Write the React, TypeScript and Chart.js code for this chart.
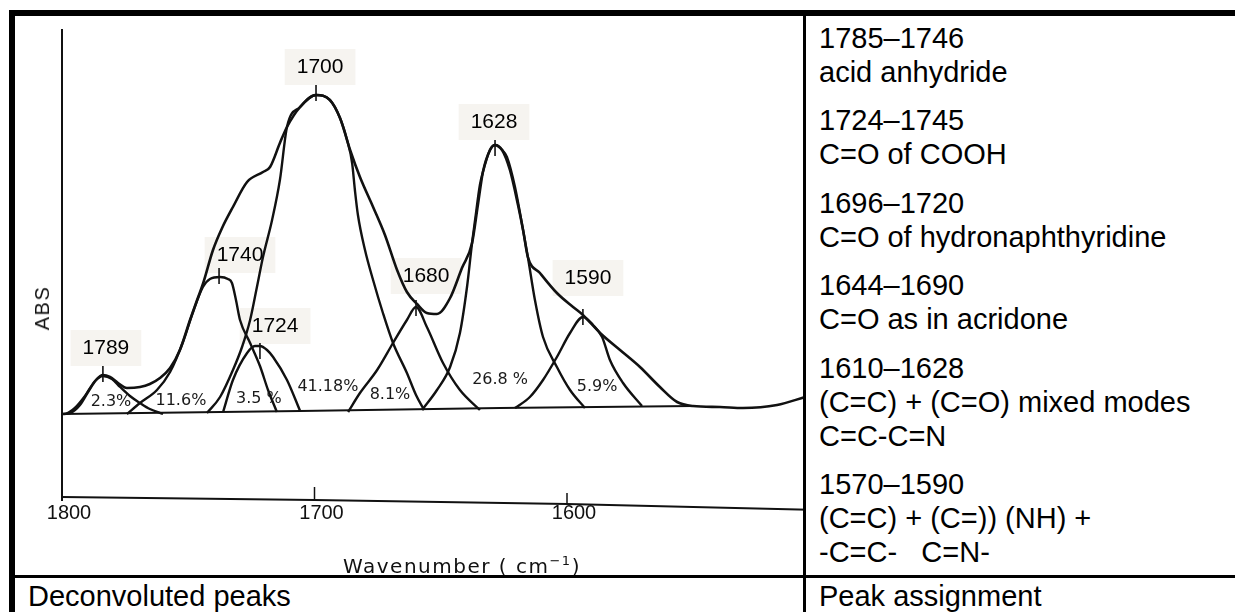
import React, { useEffect, useRef } from "react";
import { Chart, registerables } from "chart.js";

Chart.register(...registerables);

type P = { x: number; y: number };

// wavenumber (cm-1) vs absorbance (arbitrary units, baseline = 0)
const envelope: P[] = [
  { x: 1800, y: 0.0 }, { x: 1796.8, y: 0.01 }, { x: 1792.9, y: 0.09 }, { x: 1789.7, y: 0.22 },
  { x: 1786.5, y: 0.34 }, { x: 1783.8, y: 0.39 }, { x: 1781.0, y: 0.37 }, { x: 1777.8, y: 0.31 },
  { x: 1774.3, y: 0.26 }, { x: 1769.1, y: 0.27 }, { x: 1765.2, y: 0.3 }, { x: 1761.2, y: 0.36 },
  { x: 1757.2, y: 0.46 }, { x: 1753.3, y: 0.64 }, { x: 1749.3, y: 0.94 }, { x: 1746.5, y: 1.14 },
  { x: 1744.2, y: 1.3 }, { x: 1740.2, y: 1.64 }, { x: 1736.6, y: 1.86 }, { x: 1732.3, y: 2.07 },
  { x: 1726.7, y: 2.32 }, { x: 1720.4, y: 2.42 }, { x: 1717.6, y: 2.47 }, { x: 1713.7, y: 2.71 },
  { x: 1710.9, y: 2.87 }, { x: 1705.7, y: 3.07 }, { x: 1699.4, y: 3.19 }, { x: 1693.9, y: 3.14 },
  { x: 1689.9, y: 2.96 }, { x: 1685.9, y: 2.64 }, { x: 1682.0, y: 2.37 }, { x: 1676.8, y: 2.07 },
  { x: 1672.1, y: 1.79 }, { x: 1667.3, y: 1.44 }, { x: 1663.4, y: 1.22 }, { x: 1659.4, y: 1.1 },
  { x: 1655.5, y: 1.01 }, { x: 1651.5, y: 1.0 }, { x: 1646.3, y: 1.16 }, { x: 1641.6, y: 1.46 },
  { x: 1637.6, y: 1.71 }, { x: 1635.3, y: 2.09 }, { x: 1633.3, y: 2.42 }, { x: 1630.5, y: 2.64 },
  { x: 1628.5, y: 2.69 }, { x: 1625.7, y: 2.64 }, { x: 1622.6, y: 2.44 }, { x: 1619.4, y: 2.09 },
  { x: 1617.4, y: 1.84 }, { x: 1615.5, y: 1.57 }, { x: 1610.7, y: 1.41 }, { x: 1604.0, y: 1.21 },
  { x: 1597.6, y: 1.07 }, { x: 1593.7, y: 0.99 }, { x: 1586.9, y: 0.81 }, { x: 1579.0, y: 0.64 },
  { x: 1571.1, y: 0.47 }, { x: 1563.2, y: 0.27 }, { x: 1556.4, y: 0.12 }, { x: 1550.1, y: 0.08 },
  { x: 1539.4, y: 0.07 }, { x: 1530.3, y: 0.06 }, { x: 1516.8, y: 0.09 }, { x: 1505.7, y: 0.17 },
];

const peak1789: P[] = [
  { x: 1798.4, y: 0 }, { x: 1794.9, y: 0.06 }, { x: 1790.9, y: 0.18 }, { x: 1786.9, y: 0.33 },
  { x: 1783.8, y: 0.38 }, { x: 1780.2, y: 0.35 }, { x: 1777.0, y: 0.27 }, { x: 1773.1, y: 0.18 },
  { x: 1769.1, y: 0.11 }, { x: 1765.2, y: 0.05 }, { x: 1760.0, y: 0.0 },
];

const peak1740: P[] = [
  { x: 1774.3, y: 0 }, { x: 1769.1, y: 0.11 }, { x: 1762.4, y: 0.24 }, { x: 1757.2, y: 0.42 },
  { x: 1752.1, y: 0.72 }, { x: 1748.1, y: 1.02 }, { x: 1744.2, y: 1.27 }, { x: 1741.4, y: 1.35 },
  { x: 1737.4, y: 1.37 }, { x: 1734.3, y: 1.35 }, { x: 1732.7, y: 1.31 }, { x: 1731.1, y: 1.14 },
  { x: 1729.5, y: 0.94 }, { x: 1725.5, y: 0.71 }, { x: 1721.6, y: 0.48 }, { x: 1718.4, y: 0.24 },
  { x: 1714.9, y: 0.02 },
];

const peak1724: P[] = [
  { x: 1736.2, y: 0.02 }, { x: 1732.3, y: 0.34 }, { x: 1726.7, y: 0.61 }, { x: 1723.6, y: 0.68 },
  { x: 1721.6, y: 0.68 }, { x: 1718.8, y: 0.64 }, { x: 1716.4, y: 0.57 }, { x: 1710.9, y: 0.34 },
  { x: 1705.7, y: 0.03 },
];

const peak1700: P[] = [
  { x: 1742.6, y: 0.01 }, { x: 1737.4, y: 0.17 }, { x: 1732.3, y: 0.44 }, { x: 1728.7, y: 0.67 },
  { x: 1725.5, y: 0.94 }, { x: 1722.8, y: 1.27 }, { x: 1720.4, y: 1.57 }, { x: 1716.8, y: 1.94 },
  { x: 1713.7, y: 2.34 }, { x: 1710.9, y: 2.87 }, { x: 1705.7, y: 3.07 }, { x: 1699.4, y: 3.19 },
  { x: 1693.9, y: 3.14 }, { x: 1689.9, y: 2.96 }, { x: 1687.1, y: 2.74 }, { x: 1685.1, y: 2.51 },
  { x: 1684.0, y: 2.24 }, { x: 1682.8, y: 1.99 }, { x: 1680.0, y: 1.64 }, { x: 1676.8, y: 1.34 },
  { x: 1672.9, y: 1.01 }, { x: 1668.9, y: 0.71 }, { x: 1663.4, y: 0.41 }, { x: 1659.8, y: 0.19 },
  { x: 1656.6, y: 0.04 },
];

const peak1680: P[] = [
  { x: 1686.7, y: 0.02 }, { x: 1682.0, y: 0.21 }, { x: 1675.2, y: 0.44 }, { x: 1668.9, y: 0.71 },
  { x: 1663.4, y: 0.94 }, { x: 1659.8, y: 1.07 }, { x: 1655.5, y: 0.87 }, { x: 1649.1, y: 0.51 },
  { x: 1642.4, y: 0.24 }, { x: 1634.5, y: 0.04 },
];

const peak1628: P[] = [
  { x: 1657.4, y: 0.04 }, { x: 1651.5, y: 0.24 }, { x: 1646.3, y: 0.47 }, { x: 1642.4, y: 0.81 },
  { x: 1639.6, y: 1.27 }, { x: 1637.6, y: 1.71 }, { x: 1636.4, y: 1.94 }, { x: 1634.5, y: 2.29 },
  { x: 1633.3, y: 2.42 }, { x: 1630.5, y: 2.64 }, { x: 1628.5, y: 2.69 }, { x: 1625.7, y: 2.64 },
  { x: 1623.8, y: 2.57 }, { x: 1620.6, y: 2.27 }, { x: 1617.4, y: 1.84 }, { x: 1615.5, y: 1.57 },
  { x: 1612.7, y: 1.14 }, { x: 1609.5, y: 0.77 }, { x: 1604.0, y: 0.47 }, { x: 1598.8, y: 0.24 },
  { x: 1592.9, y: 0.06 },
];

const peak1590: P[] = [
  { x: 1620.6, y: 0.06 }, { x: 1614.7, y: 0.17 }, { x: 1609.5, y: 0.34 }, { x: 1604.0, y: 0.57 },
  { x: 1598.8, y: 0.81 }, { x: 1593.7, y: 0.97 }, { x: 1589.7, y: 0.89 }, { x: 1586.1, y: 0.77 },
  { x: 1583.0, y: 0.54 }, { x: 1577.8, y: 0.31 }, { x: 1570.3, y: 0.08 },
];

const baseline: P[] = [
  { x: 1800, y: 0.0 }, { x: 1705.7, y: 0.03 }, { x: 1626.5, y: 0.06 }, { x: 1550.1, y: 0.08 },
];

// the scanned (slightly tilted) wavenumber axis and its tick marks
const xAxisLine: P[] = [
  { x: 1800, y: -0.83 }, { x: 1700, y: -0.86 }, { x: 1600, y: -0.9 }, { x: 1500, y: -0.96 },
];
const tick1700: P[] = [{ x: 1700, y: -0.86 }, { x: 1700, y: -0.73 }];
const tick1600: P[] = [{ x: 1600, y: -0.9 }, { x: 1600, y: -0.79 }];

// peak annotations
const peakNames = ["1789", "1740", "1724", "1700", "1680", "1628", "1590"];
const peakLabelX = [1782.6, 1729.5, 1715.6, 1697.8, 1655.8, 1628.9, 1591.7];
const peakLabelY = [0.66, 1.59, 0.88, 3.47, 1.38, 2.92, 1.36];
const peakApexX = [1783.8, 1737.8, 1721.6, 1699.4, 1659.8, 1628.5, 1593.7];
const peakApexY = [0.4, 1.38, 0.63, 3.21, 1.06, 2.66, 0.97];

// area percentages of deconvoluted components
const areaLabels = ["2.3%", "11.6%", "3.5 %", "41.18%", "8.1%", "26.8 %", "5.9%"];
const areaX = [1780.6, 1752.9, 1722.0, 1694.7, 1670.1, 1626.5, 1588.1];
const areaY = [0.12, 0.13, 0.15, 0.27, 0.19, 0.34, 0.27];

const xTicks = [1800, 1700, 1600, 1500];

// right-hand table column
const assignments: string[][] = [
  ["1785–1746", "acid anhydride"],
  ["1724–1745", "C=O of COOH"],
  ["1696–1720", "C=O of hydronaphthyridine"],
  ["1644–1690", "C=O as in acridone"],
  ["1610–1628", "(C=C) + (C=O) mixed modes", "C=C-C=N"],
  ["1570–1590", "(C=C) + (C=)) (NH) +", "-C=C-   C=N-"],
];
const leftCaption = "Deconvoluted peaks";
const rightCaption = "Peak assignment";

const INK = "#111";

const labelPlugin = {
  id: "peakLabels",
  beforeDatasetsDraw(chart: any) {
    const { ctx, scales } = chart;
    const x = scales.x;
    const y = scales.y;
    ctx.save();
    ctx.fillStyle = "#f6f4f0";
    ctx.font = '21px "Liberation Sans", Arial, sans-serif';
    peakNames.forEach((t, i) => {
      const px = x.getPixelForValue(peakLabelX[i]);
      const py = y.getPixelForValue(peakLabelY[i]);
      const w = ctx.measureText(t).width;
      ctx.fillRect(px - w / 2 - 12, py - 18, w + 24, 36);
    });
    ctx.restore();
  },
  afterDatasetsDraw(chart: any) {
    const { ctx, scales } = chart;
    const x = scales.x;
    const y = scales.y;
    ctx.save();
    ctx.fillStyle = "#000";
    ctx.textAlign = "center";
    ctx.textBaseline = "middle";
    ctx.font = '21px "Liberation Sans", Arial, sans-serif';
    peakNames.forEach((t, i) => {
      ctx.fillText(t, x.getPixelForValue(peakLabelX[i]), y.getPixelForValue(peakLabelY[i]));
    });
    ctx.font = '16px "DejaVu Sans", sans-serif';
    ctx.fillStyle = "#1a1a1a";
    areaLabels.forEach((t, i) => {
      ctx.fillText(t, x.getPixelForValue(areaX[i]), y.getPixelForValue(areaY[i]));
    });
    ctx.restore();
  },
};

export default function App() {
  const ref = useRef<HTMLCanvasElement>(null);

  useEffect(() => {
    if (!ref.current) return;
    const curve = (data: P[], width = 2.4) => ({
      data,
      borderColor: INK,
      borderWidth: width,
      pointRadius: 0,
      fill: false,
      cubicInterpolationMode: "monotone" as const,
    });
    const straight = (data: P[], width = 2) => ({
      data,
      borderColor: INK,
      borderWidth: width,
      pointRadius: 0,
      fill: false,
      tension: 0,
      clip: false as any,
    });
    const chart = new Chart(ref.current, {
      type: "line",
      data: {
        datasets: [
          curve(envelope, 2.6),
          curve(peak1789),
          curve(peak1740),
          curve(peak1724),
          curve(peak1700),
          curve(peak1680),
          curve(peak1628),
          curve(peak1590),
          straight(baseline, 2.2),
          straight(xAxisLine, 2),
          straight(tick1700, 1.5),
          straight(tick1600, 1.5),
          {
            data: peakApexX.map((v, i) => ({ x: v, y: peakApexY[i] })),
            showLine: false,
            pointStyle: "line",
            rotation: 90,
            pointRadius: 8,
            pointBorderWidth: 1.6,
            pointBorderColor: INK,
            borderColor: INK,
          } as any,
        ],
      },
      options: {
        animation: false,
        responsive: false,
        devicePixelRatio: 1,
        layout: { padding: { left: 62, top: 30, right: 30.5, bottom: 0 } },
        plugins: { legend: { display: false }, tooltip: { enabled: false } },
        scales: {
          x: {
            type: "linear",
            reverse: true,
            min: 1500,
            max: 1800,
            afterBuildTicks: (s: any) => {
              s.ticks = xTicks.map((v) => ({ value: v }));
            },
            afterFit: (s: any) => {
              s.height = 75;
            },
            grid: { display: false, drawTicks: false },
            border: { display: false },
            ticks: {
              color: INK,
              padding: 1,
              labelOffset: 7,
              maxRotation: 0,
              autoSkip: false,
              callback: (v: any) => String(v),
              font: { family: '"Liberation Sans", Arial, sans-serif', size: 20 },
            },
          },
          y: {
            type: "linear",
            min: -0.86,
            max: 3.84,
            afterFit: (s: any) => {
              s.width = 0;
            },
            grid: { display: false, drawTicks: false },
            border: { display: true, color: INK, width: 2 },
            ticks: { display: false },
          },
        },
      },
      plugins: [labelPlugin],
    });
    return () => chart.destroy();
  }, []);

  const textFont = '"Liberation Sans", Arial, Helvetica, sans-serif';

  return (
    <div
      style={{
        position: "absolute",
        left: 0,
        top: 0,
        width: 1235,
        height: 612,
        background: "#fff",
        overflow: "hidden",
        fontFamily: textFont,
        color: "#000",
      }}
    >
      <div style={{ position: "absolute", left: 0, top: 0, width: 803, height: 575, overflow: "hidden" }}>
        <canvas ref={ref} width={850} height={575} style={{ display: "block" }} />
      </div>

      {/* y-axis title */}
      <div
        style={{
          position: "absolute",
          left: 42,
          top: 308,
          transform: "translate(-50%, -50%) rotate(-90deg)",
          font: '20px "Liberation Sans", Arial, sans-serif',
          letterSpacing: "1.5px",
          lineHeight: "20px",
          whiteSpace: "nowrap",
          color: "#111",
        }}
      >
        ABS
      </div>

      {/* x-axis title */}
      <div
        style={{
          position: "absolute",
          left: 343,
          top: 554,
          font: '20px "DejaVu Sans", sans-serif',
          letterSpacing: "1.5px",
          lineHeight: "24px",
          whiteSpace: "nowrap",
          color: "#111",
        }}
      >
        Wavenumber ( cm
        <span style={{ fontSize: 13, position: "relative", top: -8 }}>−1</span>)
      </div>

      {/* table lines */}
      <div style={{ position: "absolute", left: 9, top: 10, width: 1226, height: 6, background: "#000" }} />
      <div style={{ position: "absolute", left: 9, top: 10, width: 6, height: 602, background: "#000" }} />
      <div style={{ position: "absolute", left: 803, top: 10, width: 3, height: 602, background: "#000" }} />
      <div style={{ position: "absolute", left: 15, top: 575, width: 1220, height: 3, background: "#000" }} />

      {/* assignments column */}
      <div
        style={{
          position: "absolute",
          left: 819,
          top: 21,
          fontSize: 29,
          lineHeight: "34px",
          whiteSpace: "pre",
        }}
      >
        {assignments.map((block, bi) => (
          <div key={bi} style={{ marginTop: bi === 0 ? 0 : 14.4 }}>
            {block.map((line, li) => (
              <div key={li}>{line}</div>
            ))}
          </div>
        ))}
      </div>

      {/* captions */}
      <div style={{ position: "absolute", left: 28, top: 579, fontSize: 29, lineHeight: "34px", whiteSpace: "nowrap" }}>
        {leftCaption}
      </div>
      <div style={{ position: "absolute", left: 819, top: 579, fontSize: 29, lineHeight: "34px", whiteSpace: "nowrap" }}>
        {rightCaption}
      </div>
    </div>
  );
}
